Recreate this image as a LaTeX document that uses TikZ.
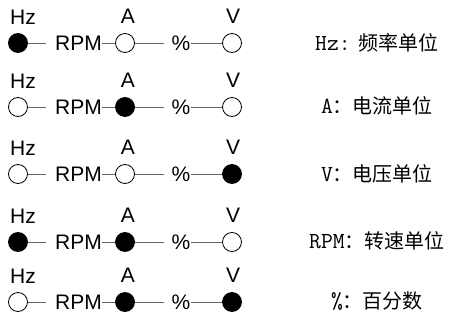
\documentclass[tikz,border=0pt]{standalone}
\usepackage{fontspec}
\setmainfont{Liberation Sans}
\newfontfamily\cjk{Noto Sans CJK SC}
\newcommand{\latpart}[1]{{\ttfamily\fontsize{23}{24}\selectfont #1}}
\begin{document}
\begin{tikzpicture}[x=1pt,y=-1pt,
  dot/.style={circle,draw=black,line width=0.8pt,minimum size=19pt,inner sep=0pt},
  on/.style={dot,fill=black},
  off/.style={dot,fill=white},
  lbl/.style={font=\fontsize{21}{22}\selectfont,inner sep=0pt},
  conn/.style={draw=black!60,line width=0.7pt},
  desc/.style={font=\fontsize{20}{22}\selectfont\cjk,inner sep=0pt}]
\useasboundingbox[fill=white] (0,0) rectangle (454,320);
\foreach \y/\hs/\as/\vs/\n in {43/on/off/off/1, 107/off/on/off/2, 174/off/off/on/3, 242/on/on/off/4, 302/off/on/on/5}{
  \node[\hs] (hz\n) at (18,\y) {};
  \node[lbl,anchor=west] (rpm\n) at (55,\y) {RPM};
  \node[\as] (a\n) at (125,\y) {};
  \node[lbl] (pc\n) at (181,\y) {\%};
  \node[\vs] (v\n) at (232,\y) {};
  \node[lbl] (lhz\n) at (23,\y-26) {Hz};
  \node[lbl] (la\n) at (128,\y-27) {A};
  \node[lbl] (lv\n) at (233,\y-27) {V};
  \draw[conn] (hz\n) -- (rpm\n.west) [shorten >=9pt];
  \draw[conn] (rpm\n) -- (a\n);
  \draw[conn,shorten >=7pt] (a\n) -- (pc\n.west);
  \draw[conn] (pc\n) -- (v\n);
}
\node[desc] (d1) at (377,43) {\latpart{Hz:}\hspace{8pt}频率单位};
\node[desc] (d2) at (377,106) {\latpart{A}：电流单位};
\node[desc] (d3) at (377,174) {\latpart{V}：电压单位};
\node[desc] (d4) at (377,241) {\latpart{RPM}：转速单位};
\node[desc] (d5) at (377,301) {\latpart{\%}：百分数};
\end{tikzpicture}
\end{document}
